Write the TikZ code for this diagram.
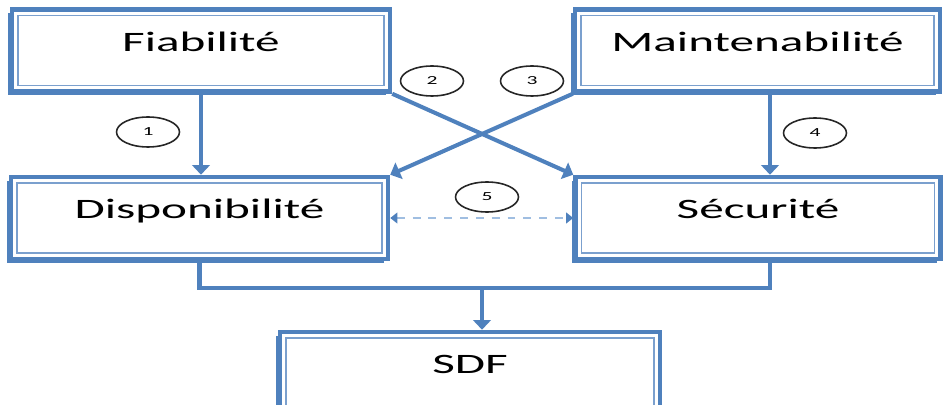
\documentclass[tikz,border=0pt]{standalone}
\usepackage{fontspec}
\setmainfont{Carlito}
\usepackage{graphicx}
\usetikzlibrary{shapes.geometric,shadows,arrows.meta}
\definecolor{sdfblue}{RGB}{79,129,189}
\definecolor{sdflight}{RGB}{160,190,225}
\newcommand{\stretchtext}[1]{\scalebox{1.75}[1]{#1}}
\tikzset{
  sdfbox/.style={draw=sdfblue, line width=2.6pt, fill=white,
    general shadow={fill=sdfblue, shadow xshift=-2.2pt, shadow yshift=-2.2pt},
    minimum height=1.64cm, inner ysep=0pt, text height=0.84cm, text depth=0.8cm,
    font=\fontsize{16}{19}\selectfont, text=black,
    path picture={\draw[sdfblue!75, line width=0.7pt]
      ([shift={(3.4pt,-3.4pt)}]path picture bounding box.north west) rectangle
      ([shift={(-3.4pt,3.4pt)}]path picture bounding box.south east);}},
  numlabel/.style={ellipse, draw=black!85, line width=0.9pt, fill=white,
    minimum width=1.26cm, minimum height=0.6cm, inner sep=0pt,
    font=\fontsize{7}{8}\selectfont},
  flow/.style={draw=sdfblue, line width=2.3pt, -{Triangle[length=5.5pt,width=10pt]}},
  link/.style={draw=sdfblue, line width=2.3pt},
  mutual/.style={draw=sdflight, line width=1.2pt, dash pattern=on 4.5pt off 4.5pt,
    {Triangle[length=4pt,width=6pt,color=sdfblue]}-{Triangle[length=4pt,width=6pt,color=sdfblue]}}
}
\begin{document}
\begin{tikzpicture}[x=0.02cm,y=-0.02cm]
\useasboundingbox (0,0) rectangle (947,405);
\node[sdfbox, minimum width=7.56cm] (fiab) at (201,50.5) {\stretchtext{Fiabilité}};
\node[sdfbox, minimum width=7.3cm] (maint) at (757.5,50.5) {\stretchtext{Maintenabilité}};
\node[sdfbox, minimum width=7.54cm] (dispo) at (199.5,218) {\stretchtext{Disponibilité}};
\node[sdfbox, minimum width=7.3cm] (secu) at (758,218) {\stretchtext{Sécurité}};
\node[sdfbox, minimum width=7.6cm] (sdf) at (470,373) {\stretchtext{SDF}};
\coordinate (c4) at (770,0);
\coordinate (join) at (482,288);
\draw[flow] (fiab.south) -- (fiab.south |- dispo.north);
\draw[flow] (maint.south -| c4) -- (secu.north -| c4);
\draw[flow] (fiab.south east) -- (secu.north west);
\draw[flow] (maint.south west) -- (dispo.north east);
\draw[mutual] (dispo.east) -- (secu.west);
\draw[link] (dispo.south) |- (join) -| (secu.south -| c4);
\draw[flow] (join) -- (join |- sdf.north);
\node[numlabel] (n1) at (148,132) {\stretchtext{1}};
\node[numlabel] (n2) at (432,81) {\stretchtext{2}};
\node[numlabel] (n3) at (532,81) {\stretchtext{3}};
\node[numlabel] (n4) at (815,133) {\stretchtext{4}};
\node[numlabel] (n5) at (487,197) {\stretchtext{5}};
\end{tikzpicture}
\end{document}
